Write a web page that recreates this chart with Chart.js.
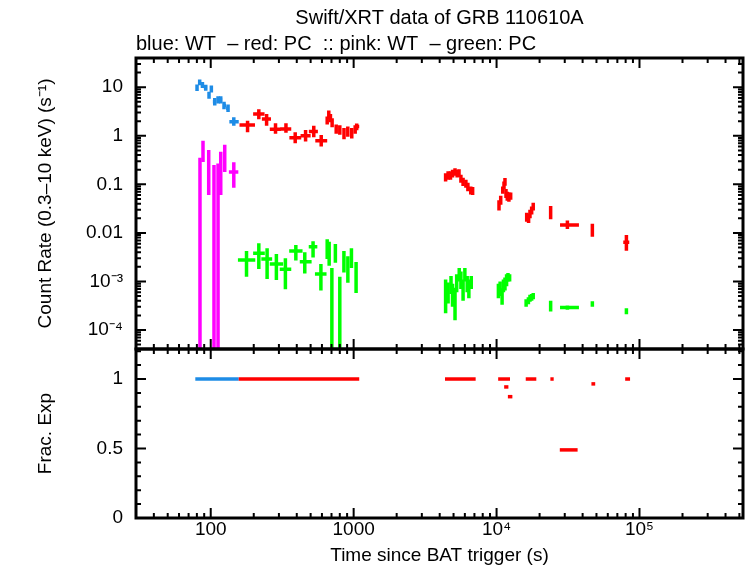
<!DOCTYPE html>
<html>
<head>
<meta charset="utf-8">
<script src="https://cdn.jsdelivr.net/npm/chart.js@4"></script>
<style>
  html, body { margin: 0; padding: 0; background: #fff; }
  #wrap { position: relative; width: 746px; height: 568px; }
  canvas { position: absolute; left: 0; top: 0; }
</style>
</head>
<body>
<div id="wrap">
  <canvas id="rate" width="746" height="568"></canvas>
  <canvas id="frac" width="746" height="568"></canvas>
</div>
<script>
// rows: [time, timeLo, timeHi, rate, rateLo, rateHi]
const blueWT = [
  [80.2, 78, 82, 9.8, 8.4, 11.4],
  [83.7, 82, 85.5, 12.7, 11.0, 14.5],
  [87.5, 85.5, 89.5, 11.1, 9.6, 12.8],
  [92.3, 89.5, 95, 9.8, 8.5, 11.3],
  [97.3, 95, 99, 6.9, 5.8, 8.1],
  [101, 99, 103.5, 9.2, 7.8, 10.8],
  [106.7, 103.5, 109.5, 5.0, 4.2, 6.0],
  [112.5, 109.5, 115, 5.5, 4.6, 6.5],
  [117.5, 115, 121, 5.5, 4.6, 6.5],
  [123.9, 121, 128, 4.2, 3.5, 5.0],
  [132.2, 128, 135, 3.7, 3.1, 4.4],
  [145, 135, 157, 1.95, 1.6, 2.4]
];
const redPC = [
  [181, 159, 204, 1.67, 1.18, 2.05],
  [217, 198, 238, 2.82, 2.2, 3.5],
  [246, 228, 264, 2.22, 1.6, 2.8],
  [284, 259, 310, 1.36, 1.1, 1.81],
  [336, 307, 366, 1.38, 1.16, 1.81],
  [390, 355, 430, 0.91, 0.7, 1.18],
  [461, 425, 500, 1.0, 0.76, 1.32],
  [526, 486, 562, 1.22, 0.93, 1.6],
  [593, 539, 653, 0.79, 0.6, 1.04],
  [653, 640, 665, 2.05, 1.7, 2.5],
  [670, 660, 680, 2.7, 2.2, 3.3],
  [688, 678, 698, 2.3, 1.9, 2.8],
  [707, 698, 718, 1.86, 1.5, 2.3],
  [755, 735, 775, 1.36, 1.1, 1.7],
  [800, 780, 820, 1.33, 1.05, 1.65],
  [856, 835, 878, 1.13, 0.85, 1.45],
  [910, 885, 935, 1.22, 0.95, 1.55],
  [970, 945, 995, 1.13, 0.88, 1.45],
  [1025, 1000, 1050, 1.36, 1.1, 1.65],
  [1050, 1040, 1094, 1.55, 1.3, 1.8],
  [4400, 4330, 4470, 0.144, 0.115, 0.17],
  [4580, 4500, 4660, 0.156, 0.125, 0.185],
  [4760, 4680, 4840, 0.156, 0.125, 0.185],
  [4920, 4850, 5000, 0.169, 0.138, 0.2],
  [5120, 5040, 5200, 0.182, 0.15, 0.215],
  [5300, 5220, 5380, 0.169, 0.138, 0.2],
  [5460, 5380, 5540, 0.174, 0.142, 0.205],
  [5630, 5550, 5710, 0.133, 0.108, 0.158],
  [5830, 5740, 5920, 0.114, 0.092, 0.136],
  [6100, 6000, 6200, 0.105, 0.085, 0.125],
  [6300, 6200, 6400, 0.09, 0.072, 0.108],
  [6600, 6480, 6720, 0.076, 0.062, 0.09],
  [6800, 6700, 6900, 0.074, 0.06, 0.088],
  [10400, 10250, 10550, 0.039, 0.029, 0.047],
  [10690, 10550, 10830, 0.048, 0.038, 0.058],
  [11050, 10900, 11200, 0.077, 0.064, 0.09],
  [11270, 11150, 11400, 0.097, 0.08, 0.115],
  [11450, 11330, 11570, 0.114, 0.094, 0.135],
  [11640, 11520, 11760, 0.066, 0.052, 0.08],
  [11880, 11760, 12000, 0.058, 0.046, 0.07],
  [12200, 12050, 12350, 0.056, 0.044, 0.068],
  [12550, 12350, 12750, 0.058, 0.048, 0.068],
  [16250, 16000, 16500, 0.021, 0.017, 0.026],
  [16750, 16500, 17000, 0.020, 0.016, 0.025],
  [17130, 16950, 17300, 0.025, 0.02, 0.03],
  [17600, 17400, 17800, 0.029, 0.024, 0.035],
  [18050, 17850, 18250, 0.035, 0.029, 0.042],
  [23900, 23500, 24400, 0.026, 0.019, 0.036],
  [31300, 27800, 37700, 0.0146, 0.012, 0.018],
  [46800, 45800, 47800, 0.0119, 0.0083, 0.0155],
  [81000, 77000, 84800, 0.0064, 0.0043, 0.0091]
];
const pinkWT = [
  [84.1, 83, 85.5, 0.169, 1e-6, 0.354],
  [88.3, 87, 89.5, 0.47, 0.29, 0.79],
  [96.8, 95, 98.5, 0.285, 0.06, 0.51],
  [105.4, 104, 107, 0.11, 1e-6, 0.25],
  [112.5, 111, 114, 0.19, 1e-6, 0.27],
  [117.5, 116, 119, 0.32, 0.06, 0.47],
  [125.3, 123, 128, 0.42, 0.18, 0.65],
  [145, 134, 156, 0.18, 0.085, 0.285]
];
const greenPC = [
  [178, 155, 205, 0.00277, 0.00125, 0.00424],
  [217, 198, 239, 0.0038, 0.0018, 0.0061],
  [248, 226, 269, 0.0029, 0.00112, 0.0048],
  [288, 259, 321, 0.00229, 0.00107, 0.00367],
  [333, 304, 366, 0.00178, 0.00069, 0.00302],
  [394, 354, 439, 0.00424, 0.0027, 0.0056],
  [455, 420, 508, 0.00255, 0.00145, 0.0040],
  [520, 485, 557, 0.0052, 0.0031, 0.0067],
  [590, 536, 646, 0.00142, 0.00065, 0.00229],
  [653, 642, 664, 0.0052, 0.0029, 0.0074],
  [674, 664, 684, 0.0041, 0.0021, 0.0066],
  [704, 694, 714, 0.00089, 1e-7, 0.00189],
  [745, 732, 758, 0.0039, 0.00244, 0.0059],
  [800, 788, 812, 0.0006, 1e-7, 0.00125],
  [855, 840, 870, 0.00268, 0.00152, 0.00424],
  [911, 896, 926, 0.00195, 0.00094, 0.0033],
  [965, 950, 980, 0.0034, 0.0019, 0.0048],
  [1040, 1025, 1055, 0.00152, 0.00058, 0.0025],
  [4400, 4330, 4470, 0.00078, 0.00022, 0.0011],
  [4580, 4500, 4660, 0.00063, 0.00035, 0.00095],
  [4800, 4720, 4880, 0.00093, 0.00055, 0.0013],
  [4920, 4850, 5000, 0.00063, 0.0003, 0.0009],
  [5120, 5040, 5200, 0.00041, 0.000158, 0.00074],
  [5260, 5180, 5340, 0.001, 0.0006, 0.0014],
  [5480, 5400, 5560, 0.00146, 0.001, 0.0019],
  [5630, 5550, 5710, 0.00115, 0.0007, 0.0016],
  [5830, 5740, 5920, 0.00074, 0.0004, 0.0011],
  [6000, 5920, 6080, 0.00146, 0.001, 0.0019],
  [6230, 6130, 6330, 0.00093, 0.0006, 0.0013],
  [6400, 6300, 6500, 0.00078, 0.00045, 0.0011],
  [6650, 6530, 6770, 0.001, 0.0007, 0.0013],
  [10300, 10150, 10450, 0.00065, 0.00045, 0.0009],
  [10590, 10450, 10730, 0.00074, 0.0005, 0.001],
  [10930, 10800, 11060, 0.00052, 0.00033, 0.00072],
  [11170, 11060, 11280, 0.00085, 0.0006, 0.0011],
  [11450, 11330, 11570, 0.00093, 0.00065, 0.0012],
  [11750, 11620, 11880, 0.00107, 0.0008, 0.0014],
  [12020, 11880, 12160, 0.00125, 0.001, 0.0015],
  [12340, 12160, 12520, 0.0012, 0.001, 0.0014],
  [16100, 15850, 16350, 0.00036, 0.0003, 0.00043],
  [16700, 16450, 16950, 0.0004, 0.00034, 0.00047],
  [17130, 16950, 17300, 0.00045, 0.00038, 0.00053],
  [17600, 17400, 17800, 0.00047, 0.0004, 0.00055],
  [18050, 17850, 18250, 0.0005, 0.00043, 0.00058],
  [23900, 23500, 24400, 0.00032, 0.00024, 0.0004],
  [31300, 27800, 37700, 0.00029, 0.00026, 0.00032],
  [46800, 45800, 47800, 0.00034, 0.0003, 0.00039],
  [81000, 79000, 83000, 0.00024, 0.00021, 0.00028]
];

// fractional exposure rows: [timeLo, timeHi, frac]
const fracWT = [
  [78, 157, 1]
];
const fracPC = [
  [157, 1094, 1],
  [4355, 7140, 1],
  [10260, 12420, 1],
  [11300, 12100, 0.943],
  [12000, 12900, 0.873],
  [16000, 18970, 1],
  [23800, 25100, 1],
  [27700, 36900, 0.49],
  [46100, 49000, 0.965],
  [79400, 85900, 1]
];

const timeTicks = [100, 1000, 1e4, 1e5];
const timeTickLabels = ['100', '1000', '10\u2074', '10\u2075'];
const rateTicks = [10, 1, 0.1, 0.01, 0.001, 0.0001];
const rateTickLabels = ['10', '1', '0.1', '0.01', '10\u207B\u00B3', '10\u207B\u2074'];
const fracTicks = [0, 0.5, 1];
const fracTickLabels = ['0', '0.5', '1'];

const T_MIN = 30, T_MAX = 5.3e5;
const R_MIN = 4.06e-5, R_MAX = 40;

Chart.defaults.font.family = "'Liberation Sans', Arial, sans-serif";
Chart.defaults.color = '#000';

const BLUE = '#1e8ce6', RED = '#ff0000', PINK = '#ff00ff', GREEN = '#00ff00';

function errSet(label, rows, color, width) {
  return {
    label: label,
    data: rows.map(r => ({ x: r[0], y: r[3] })),
    rows: rows,
    borderColor: color,
    backgroundColor: color,
    barWidth: width,
    pointRadius: 0
  };
}

function fracSet(label, rows, color) {
  // turn [lo, hi, frac] into the same row shape as the rate data
  const full = rows.map(r => [Math.sqrt(r[0] * r[1]), r[0], r[1], r[2], r[2], r[2]]);
  return errSet(label, full, color, 3.5);
}

const errorBars = {
  id: 'errorBars',
  afterDatasetsDraw(chart) {
    const { ctx, chartArea: a, scales: { x, y } } = chart;
    ctx.save();
    ctx.beginPath();
    ctx.rect(a.left, a.top, a.right - a.left, a.bottom - a.top);
    ctx.clip();
    chart.data.datasets.forEach(ds => {
      ctx.strokeStyle = ds.borderColor;
      ctx.lineWidth = ds.barWidth;
      ctx.lineCap = 'butt';
      ds.rows.forEach(r => {
        const px = x.getPixelForValue(r[0]);
        const py = y.getPixelForValue(r[3]);
        ctx.beginPath();
        ctx.moveTo(x.getPixelForValue(r[1]), py);
        ctx.lineTo(x.getPixelForValue(r[2]), py);
        if (r[4] !== r[5]) {
          ctx.moveTo(px, y.getPixelForValue(r[4]));
          ctx.lineTo(px, y.getPixelForValue(r[5]));
        }
        ctx.stroke();
      });
    });
    ctx.restore();
  }
};

// tick values for the inward tick marks (axis decoration, not data)
function logTickMarks(min, max) {
  const out = [];
  for (let e = Math.floor(Math.log10(min)); e <= Math.ceil(Math.log10(max)); e++) {
    for (let m = 1; m < 10; m++) {
      const v = m * Math.pow(10, e);
      if (v >= min && v <= max) out.push([v, m === 1]);
    }
  }
  return out;
}
function linTickMarks(min, max, step, majorEvery) {
  const out = [];
  for (let i = 0; i * step <= max + 1e-9; i++) {
    const v = i * step;
    if (v >= min) out.push([v, i % majorEvery === 0]);
  }
  return out;
}

const frame = {
  id: 'frame',
  afterDraw(chart) {
    const { ctx, chartArea: a, scales: { x, y } } = chart;
    const xm = logTickMarks(x.min, x.max);
    const ym = y.type === 'logarithmic' ? logTickMarks(y.min, y.max) : linTickMarks(y.min, y.max, 0.1, 5);
    ctx.save();
    ctx.strokeStyle = '#000';
    ctx.lineWidth = 2;
    ctx.beginPath();
    xm.forEach(([v, major]) => {
      const p = x.getPixelForValue(v), L = major ? 10 : 5;
      ctx.moveTo(p, a.top); ctx.lineTo(p, a.top + L);
      ctx.moveTo(p, a.bottom); ctx.lineTo(p, a.bottom - L);
    });
    ym.forEach(([v, major]) => {
      const p = y.getPixelForValue(v), L = major ? 10 : 5;
      ctx.moveTo(a.left, p); ctx.lineTo(a.left + L, p);
      ctx.moveTo(a.right, p); ctx.lineTo(a.right - L, p);
    });
    ctx.stroke();
    ctx.lineWidth = 3;
    ctx.strokeRect(a.left, a.top, a.right - a.left, a.bottom - a.top);
    ctx.restore();
  }
};

const axisFont = { size: 19 };

// upper panel: count rate
new Chart(document.getElementById('rate'), {
  type: 'scatter',
  data: {
    datasets: [
      errSet('blue: WT', blueWT, BLUE, 3.5),
      errSet('red: PC', redPC, RED, 3.5),
      errSet('pink: WT', pinkWT, PINK, 3.5),
      errSet('green: PC', greenPC, GREEN, 3.5)
    ]
  },
  options: {
    responsive: false,
    animation: false,
    layout: { padding: { left: 0, right: 3, top: 0, bottom: 219 } },
    plugins: {
      legend: { display: false },
      tooltip: { enabled: false },
      title: {
        display: true,
        text: 'Swift/XRT data of GRB 110610A',
        fullSize: false,
        font: { size: 20, weight: 'normal' },
        padding: { top: 6, bottom: 2 }
      },
      subtitle: {
        display: true,
        text: 'blue: WT  \u2013 red: PC  :: pink: WT  \u2013 green: PC',
        align: 'start',
        fullSize: false,
        font: { size: 20, weight: 'normal' },
        padding: { top: 0, bottom: 2 }
      }
    },
    scales: {
      x: { type: 'logarithmic', min: T_MIN, max: T_MAX, display: false },
      y: {
        type: 'logarithmic',
        min: R_MIN,
        max: R_MAX,
        grid: { display: false, drawTicks: false },
        border: { display: false },
        afterBuildTicks: s => { s.ticks = rateTicks.map(v => ({ value: v })); },
        afterFit: s => { s.width = 136; },
        ticks: {
          autoSkip: false,
          padding: 13,
          font: axisFont,
          callback: (v, i) => rateTickLabels[i]
        },
        title: {
          display: true,
          text: 'Count Rate (0.3\u201310 keV) (s\u207B\u00B9)',
          font: axisFont,
          padding: { top: 34, bottom: 0 }
        }
      }
    }
  },
  plugins: [errorBars, frame]
});

// lower panel: fractional exposure
new Chart(document.getElementById('frac'), {
  type: 'scatter',
  data: {
    datasets: [
      fracSet('WT', fracWT, BLUE),
      fracSet('PC', fracPC, RED)
    ]
  },
  options: {
    responsive: false,
    animation: false,
    layout: { padding: { left: 0, right: 3, top: 349, bottom: 0 } },
    plugins: { legend: { display: false }, tooltip: { enabled: false } },
    scales: {
      x: {
        type: 'logarithmic',
        min: T_MIN,
        max: T_MAX,
        grid: { display: false, drawTicks: false },
        border: { display: false },
        afterBuildTicks: s => { s.ticks = timeTicks.map(v => ({ value: v })); },
        afterFit: s => { s.height = 50; },
        ticks: {
          autoSkip: false,
          maxRotation: 0,
          padding: 0,
          font: axisFont,
          callback: (v, i) => timeTickLabels[i]
        },
        title: {
          display: true,
          text: 'Time since BAT trigger (s)',
          font: axisFont,
          padding: { top: 0, bottom: 1 }
        }
      },
      y: {
        type: 'linear',
        min: 0,
        max: 1.216,
        grid: { display: false, drawTicks: false },
        border: { display: false },
        afterBuildTicks: s => { s.ticks = fracTicks.map(v => ({ value: v })); },
        afterFit: s => { s.width = 136; },
        ticks: {
          autoSkip: false,
          padding: 13,
          font: axisFont,
          callback: (v, i) => fracTickLabels[i]
        },
        title: {
          display: true,
          text: 'Frac. Exp',
          font: axisFont,
          padding: { top: 34, bottom: 0 }
        }
      }
    }
  },
  plugins: [errorBars, frame]
});
</script>
</body>
</html>
